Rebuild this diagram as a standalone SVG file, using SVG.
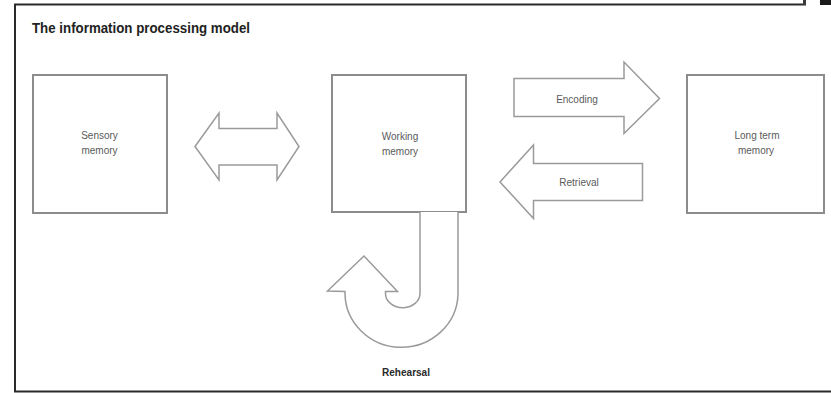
<svg xmlns="http://www.w3.org/2000/svg" width="831" height="393" viewBox="0 0 831 393">
  <style>
    .frame { fill: none; stroke: #2a2a2a; stroke-width: 2; }
    .box { fill: #ffffff; stroke: #8c8c8c; stroke-width: 2; }
    .arrow { fill: #ffffff; stroke: #9a9a9a; stroke-width: 1.5; stroke-linejoin: miter; }
    .label { font-family: "Liberation Sans", Arial, sans-serif; font-size: 10px; fill: #5a5a5a; text-anchor: middle; }
    .title { font-family: "Liberation Sans", Arial, sans-serif; font-size: 14.5px; font-weight: bold; fill: #222222; }
    .caption { font-family: "Liberation Sans", Arial, sans-serif; font-size: 11.5px; font-weight: bold; fill: #2a2a2a; text-anchor: middle; }
  </style>

  <rect x="0" y="0" width="831" height="393" fill="#ffffff"/>

  <!-- page frame -->
  <g id="frame">
    <path class="frame" d="M 806 4.5 L 15 4.5 L 15 391.5 L 831 391.5"/>
    <rect x="803" y="0" width="3" height="5" fill="#3a3a3a"/>
    <rect x="820" y="0" width="11" height="5" fill="#1a1a1a"/>
  </g>

  <text class="title" x="32" y="33" textLength="218" lengthAdjust="spacingAndGlyphs">The information processing model</text>

  <!-- memory stores -->
  <g id="sensory-memory">
    <rect class="box" x="33" y="75" width="134" height="138"/>
    <text class="label" x="99.5" y="139">Sensory</text>
    <text class="label" x="99.5" y="154">memory</text>
  </g>

  <g id="working-memory">
    <rect class="box" x="332" y="75" width="134" height="137"/>
    <text class="label" x="400" y="140">Working</text>
    <text class="label" x="400" y="155">memory</text>
  </g>

  <g id="long-term-memory">
    <rect class="box" x="687" y="75" width="137" height="138"/>
    <text class="label" x="757" y="139">Long term</text>
    <text class="label" x="756" y="154">memory</text>
  </g>

  <!-- connectors: block arrows -->
  <g id="connectors">
    <g id="sensory-working">
      <path class="arrow" d="M 195 146.5 L 219 113 L 219 128.5 L 277 128.5 L 277 113 L 299 146.5 L 277 180 L 277 165 L 219 165 L 219 180 Z"/>
    </g>
    <g id="encoding">
      <path class="arrow" d="M 514 78.5 L 624 78.5 L 624 62 L 659.5 98.5 L 624 133.5 L 624 116.5 L 514 116.5 Z"/>
      <text class="label" x="577" y="102.5">Encoding</text>
    </g>
    <g id="retrieval">
      <path class="arrow" d="M 642.5 163.5 L 533.5 163.5 L 533.5 145 L 500 182 L 533.5 218.5 L 533.5 200.5 L 642.5 200.5 Z"/>
      <text class="label" x="579" y="186">Retrieval</text>
    </g>
    <g id="rehearsal">
      <path class="arrow" d="M 420 212 L 420 293 A 17 14 0 0 1 385.5 294 L 385.5 291.5 L 397.5 291.5 L 364 256 L 327.5 291 L 345 291.5 A 56.5 54.5 0 0 0 458 294 L 458 212"/>
      <text class="caption" x="406" y="376" textLength="48" lengthAdjust="spacingAndGlyphs">Rehearsal</text>
    </g>
  </g>
</svg>
